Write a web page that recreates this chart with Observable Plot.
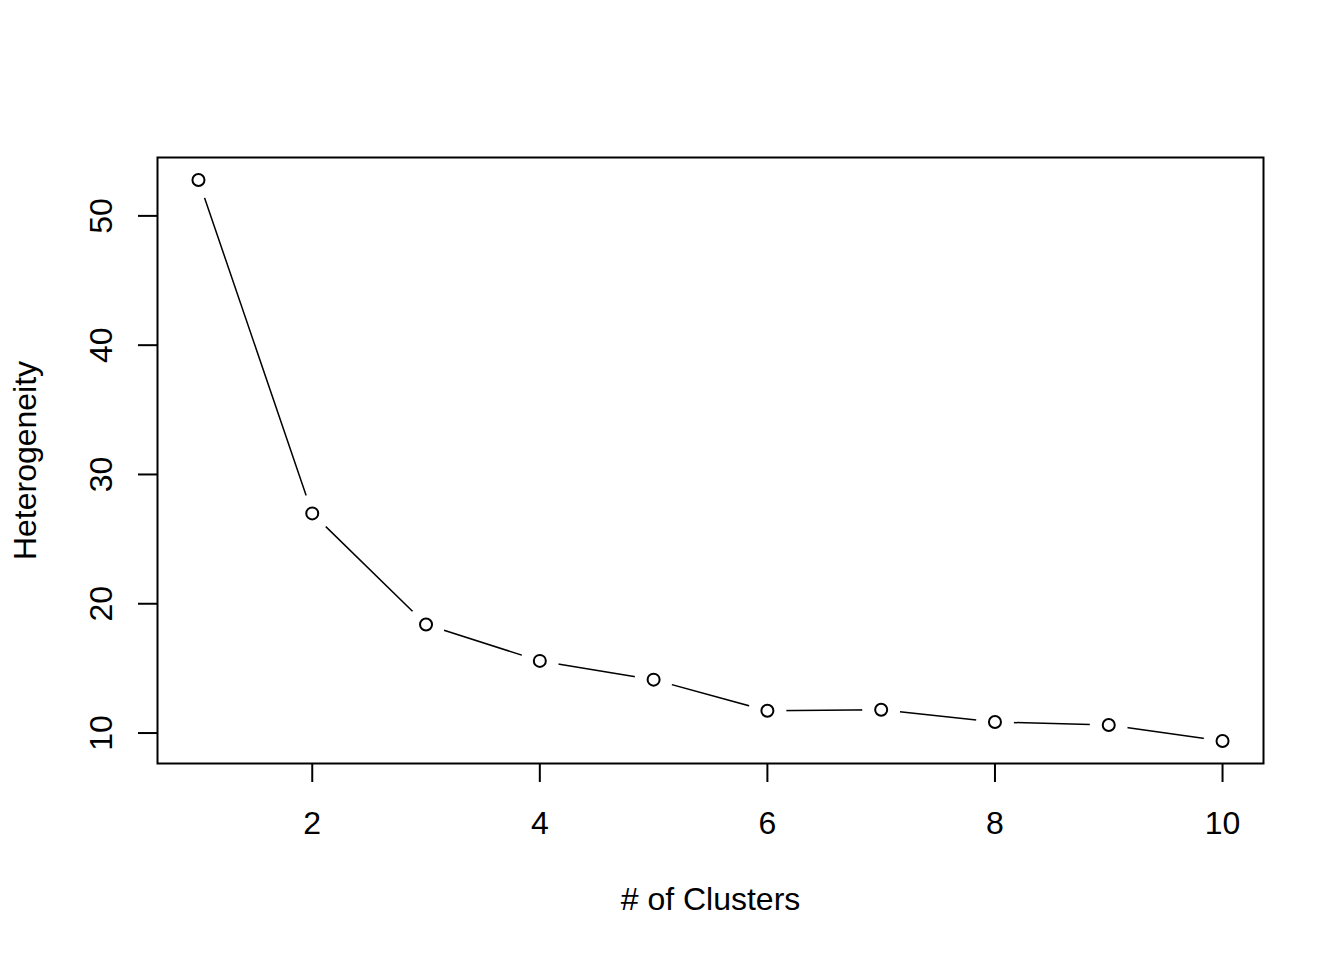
<!DOCTYPE html>
<html>
<head>
<meta charset="utf-8">
<script src="https://cdn.jsdelivr.net/npm/d3@7"></script>
<script src="https://cdn.jsdelivr.net/npm/@observablehq/plot@0.6"></script>
<style>
  html, body { margin: 0; padding: 0; background: #fff; }
  #chart svg { display: block; }
</style>
</head>
<body>
<div id="chart"></div>
<script>
const clusters = [1, 2, 3, 4, 5, 6, 7, 8, 9, 10];
const heterogeneity = [52.78, 26.99, 18.39, 15.58, 14.13, 11.72, 11.80, 10.85, 10.62, 9.38];
const xTicks = [2, 4, 6, 8, 10];
const yTicks = [10, 20, 30, 40, 50];
const xLabel = "# of Clusters";
const yLabel = "Heterogeneity";

const data = clusters.map((k, i) => ({k, h: heterogeneity[i]}));

function pad(ext) { const d = (ext[1] - ext[0]) * 0.04; return [ext[0] - d, ext[1] + d]; }
const xDomain = pad(d3.extent(clusters));
const yDomain = pad(d3.extent(heterogeneity));

const font = "'Liberation Sans', Arial, sans-serif";

const chart = Plot.plot({
  width: 1344,
  height: 960,
  marginLeft: 157,
  marginRight: 81,
  marginTop: 157,
  marginBottom: 197,
  style: {fontFamily: font, fontSize: "32px", background: "#fff", color: "#000"},
  x: {domain: xDomain},
  y: {domain: yDomain},
  marks: [
    Plot.line(data, {x: "k", y: "h", stroke: "#000", strokeWidth: 1.5}),
    Plot.dot(data, {x: "k", y: "h", r: 19, fill: "#fff", stroke: "none"}),
    Plot.dot(data, {x: "k", y: "h", r: 6, fill: "none", stroke: "#000", strokeWidth: 2}),
    Plot.axisX({ticks: xTicks, tickSize: 19, tickPadding: 29, strokeWidth: 2, label: null, fontSize: 32}),
    Plot.axisY({ticks: yTicks, tickSize: 19, tickPadding: 27, tickRotate: -90, strokeWidth: 2, label: null, fontSize: 32}),
    Plot.text([xLabel], {frameAnchor: "bottom", textAnchor: "middle", dy: 146, fontSize: 32, fill: "#000"}),
    Plot.text([yLabel], {frameAnchor: "left", textAnchor: "middle", dx: -132, rotate: -90, fontSize: 32, fill: "#000"}),
    Plot.frame({stroke: "#000", strokeWidth: 2})
  ]
});
document.getElementById("chart").appendChild(chart);
</script>
</body>
</html>
